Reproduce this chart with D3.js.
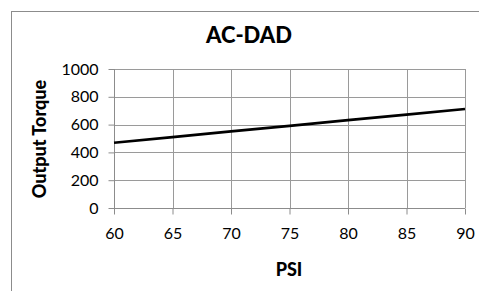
<!DOCTYPE html>
<html>
<head>
<meta charset="utf-8">
<script src="https://cdnjs.cloudflare.com/ajax/libs/d3/7.8.5/d3.min.js"></script>
<style>
  body { margin: 0; background: #fff; }
  text { font-family: Lato, "Open Sans", sans-serif; fill: #000; }
</style>
</head>
<body>
<div id="chart"></div>
<script>
const width = 479;
const height = 291;

// data
const psi = [60, 65, 70, 75, 80, 85, 90];
const torque = [470, 510, 551, 591, 632, 672, 712];
const xTicks = [60, 65, 70, 75, 80, 85, 90];
const yTicks = [0, 200, 400, 600, 800, 1000];

const margin = {top: 69, right: 14, bottom: 83, left: 114};

let svg = d3.select("#chart")
    .append("svg")
    .attr("width", width)
    .attr("height", height);

// chart frame, runs off the right and bottom edges
svg.append("rect")
    .attr("x", 11.5)
    .attr("y", 11.5)
    .attr("width", 480)
    .attr("height", 300)
    .attr("fill", "#fff")
    .attr("stroke", "#8c8c8c")
    .attr("stroke-width", 1);

let x = d3.scaleLinear()
    .domain([60, 90])
    .range([margin.left, width - margin.right]);

let y = d3.scaleLinear()
    .domain([0, 1000])
    .range([height - margin.bottom, margin.top]);

// grid
svg.append("g")
    .selectAll("line")
    .data(yTicks)
    .enter()
    .append("line")
    .attr("x1", x(60))
    .attr("x2", x(90))
    .attr("y1", d => Math.round(y(d)) + 0.5)
    .attr("y2", d => Math.round(y(d)) + 0.5)
    .attr("stroke", "#9a9a9a");

svg.append("g")
    .selectAll("line")
    .data(xTicks)
    .enter()
    .append("line")
    .attr("x1", d => Math.round(x(d)) + 0.5)
    .attr("x2", d => Math.round(x(d)) + 0.5)
    .attr("y1", y(1000))
    .attr("y2", y(0))
    .attr("stroke", "#9a9a9a");

// axes
let xAxis = svg.append("g")
    .attr("transform", "translate(0," + (Math.round(y(0)) + 0.5) + ")")
    .call(d3.axisBottom(x).tickValues(xTicks).tickSize(6).tickPadding(13));

let yAxis = svg.append("g")
    .attr("transform", "translate(" + (Math.round(x(60)) + 0.5) + ",0)")
    .call(d3.axisLeft(y).tickValues(yTicks).tickFormat(d3.format("d")).tickSize(6).tickPadding(10));

[xAxis, yAxis].forEach(a => {
    a.select(".domain").attr("stroke", "#8c8c8c");
    a.selectAll(".tick line").attr("stroke", "#8c8c8c");
    a.selectAll("text")
        .attr("font-family", "Lato, 'Open Sans', sans-serif")
        .attr("font-size", 16)
        .attr("fill", "#000");
});
xAxis.select(".domain").attr("d", "M" + x(60) + ",0H" + x(90));
yAxis.select(".domain").attr("d", "M0," + y(0) + "V" + y(1000));

// series line
let line = d3.line()
    .x((d, i) => x(psi[i]))
    .y(d => y(d));

svg.append("path")
    .datum(torque)
    .attr("d", line)
    .attr("fill", "none")
    .attr("stroke", "#000")
    .attr("stroke-width", 2.6);

// titles
svg.append("text")
    .attr("x", 249)
    .attr("y", 43)
    .attr("text-anchor", "middle")
    .attr("font-size", 22)
    .attr("font-weight", "900")
    .text("AC-DAD");

svg.append("text")
    .attr("x", 289)
    .attr("y", 276)
    .attr("text-anchor", "middle")
    .attr("font-size", 18)
    .attr("font-weight", "900")
    .text("PSI");

svg.append("text")
    .attr("transform", "translate(46,139) rotate(-90)")
    .attr("text-anchor", "middle")
    .attr("font-size", 18)
    .attr("font-weight", "900")
    .text("Output Torque");
</script>
</body>
</html>
